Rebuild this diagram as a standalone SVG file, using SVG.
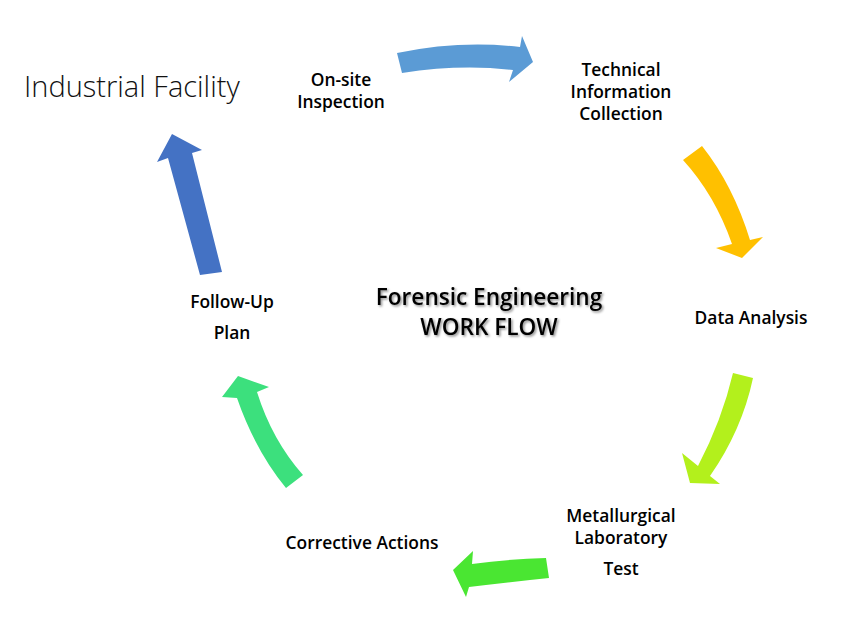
<svg xmlns="http://www.w3.org/2000/svg" width="853" height="628" viewBox="0 0 853 628">
<defs>
<style>
.lbl{font-family:"Open Sans","Liberation Sans",sans-serif;font-weight:600;font-size:17.4px;fill:#000;text-anchor:middle}
.ttl{font-family:"Open Sans","Liberation Sans",sans-serif;font-weight:600;font-size:22.6px;fill:#000;text-anchor:middle}
.big{font-family:"Open Sans","Liberation Sans",sans-serif;font-weight:300;font-size:29px;fill:#111}
</style>
<filter id="sh" x="-10%" y="-30%" width="120%" height="160%">
<feDropShadow dx="1.5" dy="1.5" stdDeviation="1" flood-color="#000" flood-opacity="0.45"/>
</filter>
</defs>
<rect width="853" height="628" fill="#fff"/>
<g id="connectors">
<path d="M397,53 Q460,40 520,47 L522,36 L533,62 L509,82 L513,70 Q460,64 402,73 Z" fill="#5B9BD5"/>
<path d="M683,160 L702,146 Q733,185 750,240 L763,237 L742,258 L716,248 L732,244 Q715,195 683,160 Z" fill="#FFC000"/>
<path d="M733,373 L753,378 Q742,430 710,476 L720,484 L690,483 L682,453 L698,466 Q722,420 733,373 Z" fill="#B3F01C"/>
<path d="M546,558 L549,578 Q510,582 469,587 L466,597 L453,570 L473,551 L472,564 Q510,559 546,558 Z" fill="#4AE632"/>
<path d="M303,475 L286,488 Q255,450 237,398 L222,397 L238,376 L269,387 L257,392 Q272,440 303,475 Z" fill="#3CE07D"/>
<path d="M222,272 L200,275 L168,158 L157,162 L172,134 L202,150 L192,153 Z" fill="#4472C4"/>
</g>
<g id="facility"><text class="big" x="24" y="97">Industrial Facility</text></g>
<g id="onsite"><text class="lbl" x="341" y="86">On-site</text><text class="lbl" x="341" y="108">Inspection</text></g>
<g id="technical"><text class="lbl" x="621" y="76">Technical</text><text class="lbl" x="621" y="98">Information</text><text class="lbl" x="621" y="120">Collection</text></g>
<g id="analysis"><text class="lbl" x="751" y="324">Data Analysis</text></g>
<g id="metallurgical"><text class="lbl" x="621" y="522">Metallurgical</text><text class="lbl" x="621" y="544">Laboratory</text><text class="lbl" x="621" y="575">Test</text></g>
<g id="corrective"><text class="lbl" x="362" y="549">Corrective Actions</text></g>
<g id="followup"><text class="lbl" x="232" y="308">Follow-Up</text><text class="lbl" x="232" y="339">Plan</text></g>
<g id="title" filter="url(#sh)"><text class="ttl" x="489" y="305">Forensic Engineering</text><text class="ttl" x="489" y="335">WORK FLOW</text></g>
</svg>
